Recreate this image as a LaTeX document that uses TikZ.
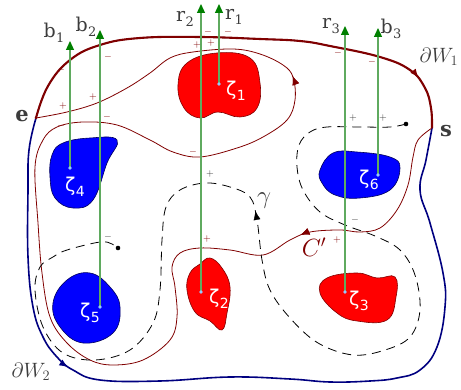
\documentclass[tikz,border=0pt]{standalone}
\usepackage{fontspec}
\setmainfont{DejaVu Serif}
\newfontfamily\zfont{DejaVu Sans}
\usetikzlibrary{arrows.meta,decorations.markings}
\definecolor{dred}{RGB}{128,0,0}
\definecolor{navyb}{RGB}{0,0,128}
\definecolor{lgreen}{RGB}{95,170,95}
\definecolor{dgreen}{RGB}{0,128,0}
\definecolor{dotblue}{RGB}{150,200,255}
\definecolor{lbl}{RGB}{60,60,60}
\newcommand{\zl}[1]{ζ\kern0.02em\raisebox{-0.45ex}{\fontsize{14}{14}\selectfont #1}}
\newcommand{\lsub}[1]{\kern0.02em\raisebox{-0.45ex}{\fontsize{13}{13}\selectfont #1}}
\begin{document}
\begin{tikzpicture}[x=1pt,y=-1pt,
  redblob/.style={fill=red, draw=dred, line width=0.6pt},
  blueblob/.style={fill=blue, draw=navyb!70!black, line width=0.6pt},
  garrow/.style={draw=lgreen, line width=1.3pt, -{Triangle[length=9pt,width=8pt,color=dgreen]}},
  zlab/.style={text=white, font=\zfont\fontsize{19}{19}\selectfont, inner sep=0pt},
  tlab/.style={text=lbl, font=\fontsize{19}{19}\selectfont, inner sep=0pt},
  blab/.style={text=lbl, font=\fontsize{21}{21}\selectfont\bfseries, inner sep=0pt},
  wlab/.style={text=lbl, font=\fontsize{21}{21}\selectfont, inner sep=0pt},
  glab/.style={text=lbl, font=\fontsize{25}{25}\selectfont, inner sep=0pt},
  rsign/.style={text=dred, font=\fontsize{10}{10}\selectfont, inner sep=0pt},
  ksign/.style={text=black!80, font=\fontsize{10}{10}\selectfont, inner sep=0pt},
  cdot/.style={fill=dotblue},
  midarrow/.style={postaction={decorate}, decoration={markings, mark=at position #1 with {\arrow{Latex[length=9pt,width=7pt]}}}},
]
\useasboundingbox (0,0) rectangle (461,390);

% ---- blobs
\draw[redblob] plot[smooth cycle, tension=0.7] coordinates {(187,63)(217,53)(250,58)(260,83)(257,108)(240,117)(218,112)(200,118)(184,108)(178,85)};
\draw[redblob] plot[smooth cycle, tension=0.7] coordinates {(210,258)(222,268)(230,287)(227,313)(222,330)(210,321)(195,312)(187,290)(190,273)(200,264)};
\draw[redblob] plot[smooth cycle, tension=0.7] coordinates {(327,278)(357,273)(377,278)(395,277)(396,297)(387,320)(357,321)(337,313)(320,293)};
\draw[blueblob] plot[smooth cycle, tension=0.7] coordinates {(63,143)(90,138)(117,140)(107,163)(93,200)(73,208)(55,198)(50,177)(52,155)};
\draw[blueblob] plot[smooth cycle, tension=0.7] coordinates {(90,273)(110,287)(120,307)(113,333)(83,343)(60,327)(53,303)(67,280)};
\draw[blueblob] plot[smooth cycle, tension=0.7] coordinates {(320,170)(333,153)(357,152)(390,157)(400,168)(390,190)(360,198)(335,195)(322,183)};

% ---- named points
\coordinate (e) at (36,118);
\coordinate (s) at (432,128);
\coordinate (z1) at (219,84);
\coordinate (z2) at (201,292);
\coordinate (z3) at (345,292);
\coordinate (z4) at (70,168);
\coordinate (z5) at (100,307);
\coordinate (z6) at (378,175);
\coordinate (tr1) at (219,4);
\coordinate (tr2) at (201,4);
\coordinate (tr3) at (345,26);
\coordinate (tb1) at (70,41);
\coordinate (tb2) at (100,30);
\coordinate (tb3) at (378,28);
\coordinate (gs) at (406,124);
\coordinate (ge) at (118,248);

% ---- outer boundary
\draw[navyb, line width=1.6pt, midarrow=0.30] plot[smooth, tension=0.7] coordinates {(36,118)(29,150)(28,190)(28,257)(33,307)(43,337)(57,357)(73,370)(100,380)(160,381)(230,377)(290,379)(330,382)(370,381)(397,378)(420,370)(437,347)(445,307)(443,273)(430,223)(420,190)(426,160)(432,128)};
\draw[navyb, line width=1pt] plot[smooth, tension=0.7] coordinates {(36,118)(48,86)(70,60)(100,45)(140,38)(200,37)(260,39)(300,41)(330,46)(380,57)(410,70)(425,88)(431,108)(432,128)};
\draw[dred, line width=2.1pt, midarrow=0.89] plot[smooth, tension=0.7] coordinates {(36,118)(48,86)(70,60)(100,45)(140,38)(200,37)(260,39)(300,41)(330,46)(380,57)(410,70)(425,88)(431,108)(432,128)};

% ---- curve C'
\draw[dred, line width=0.8pt, midarrow=0.148, midarrow=0.79] plot[smooth, tension=0.6] coordinates {(432,128)(418,140)(413,157)(408,185)(397,210)(380,228)(360,232)(340,230)(310,232)(290,240)(263,255)(230,250)(200,248)(180,253)(172,267)(175,287)(177,317)(170,340)(143,360)(113,365)(90,360)(67,343)(50,317)(42,273)(38,223)(35,167)(43,140)(57,127)(83,122)(117,125)(150,140)(173,152)(200,157)(237,148)(263,137)(287,120)(295,100)(293,77)(283,65)(260,54)(233,49)(193,52)(170,58)(150,73)(127,88)(97,103)(67,112)(36,118)};

% ---- dashed gamma
\draw[black, line width=0.8pt, dash pattern=on 9pt off 6pt] plot[smooth, tension=0.6] coordinates {(406,124)(390,127)(360,127)(327,127)(310,132)(299,145)(297,167)(303,190)(320,212)(345,225)(375,236)(400,250)(415,275)(420,310)(410,337)(385,350)(353,355)(318,343)(290,318)(270,290)(262,260)(257,220)(250,197)(230,187)(205,183)(180,190)(166,207)(162,240)(160,290)(153,323)(130,350)(95,360)(63,353)(43,327)(35,290)(40,267)(53,257)(67,250)(100,242)(112,244)(118,248)};
\path[postaction={decorate}, decoration={markings, mark=at position 0.547 with {\arrow{Latex[length=9pt,width=7pt]}}}] plot[smooth, tension=0.6] coordinates {(406,124)(390,127)(360,127)(327,127)(310,132)(299,145)(297,167)(303,190)(320,212)(345,225)(375,236)(400,250)(415,275)(420,310)(410,337)(385,350)(353,355)(318,343)(290,318)(270,290)(262,260)(257,220)(250,197)(230,187)(205,183)(180,190)(166,207)(162,240)(160,290)(153,323)(130,350)(95,360)(63,353)(43,327)(35,290)(40,267)(53,257)(67,250)(100,242)(112,244)(118,248)};
\fill (gs) circle[radius=2.3pt];
\fill (ge) circle[radius=2.3pt];
\fill[dred] (e) circle[radius=1.5pt];

% ---- green arrows
\draw[garrow] (z1) -- (tr1);
\draw[garrow] (z2) -- (tr2);
\draw[garrow] (z3) -- (tr3);
\draw[garrow] (z4) -- (tb1);
\draw[garrow] (z5) -- (tb2);
\draw[garrow] (z6) -- (tb3);
\foreach \p in {z1,z2,z3,z4,z5,z6} \fill[cdot] (\p) circle[radius=1.8pt];

% ---- zeta labels
\node[zlab] (lz1) at (236,91) {\zl{1}};
\node[zlab] (lz2) at (219,299) {\zl{2}};
\node[zlab] (lz3) at (359,301) {\zl{3}};
\node[zlab] (lz4) at (75,187) {\zl{4}};
\node[zlab] (lz5) at (90,313) {\zl{5}};
\node[zlab] (lz6) at (369,180) {\zl{6}};

% ---- text labels
\node[tlab] (lb1) at (54,33) {b\lsub{1}};
\node[tlab] (lb2) at (86,27) {b\lsub{2}};
\node[tlab] (lr2) at (185,19) {r\lsub{2}};
\node[tlab] (lr1) at (234,17) {r\lsub{1}};
\node[tlab] (lr3) at (331,26) {r\lsub{3}};
\node[tlab] (lb3) at (391,29) {b\lsub{3}};
\node[wlab] (lw1) at (439,57) {$\partial W_1$};
\node[wlab] (lw2) at (31,372) {$\partial W_2$};
\node[blab] (le) at (22,116) {e};
\node[blab] (ls) at (446,131) {s};
\node[glab] (lg) at (264,201) {$\gamma$};
\node[glab, text=dred] (lc) at (314,247) {$C'$};

% ---- signs
\node[rsign] (sg1) at (61,70) {$-$};
\node[rsign] (sg2) at (108,57) {$-$};
\node[rsign] (sg3) at (63,106) {$+$};
\node[rsign] (sg4) at (93,97) {$+$};
\node[rsign] (sg5) at (61,126) {$-$};
\node[rsign] (sg6) at (107,117) {$-$};
\node[rsign] (sg7) at (193,152) {$-$};
\node[rsign] (sg8) at (197,45) {$+$};
\node[rsign] (sg9) at (211,43) {$+$};
\node[rsign] (sg10) at (208,32) {$-$};
\node[rsign] (sg11) at (228,32) {$-$};
\node[rsign] (sg12) at (338,53) {$-$};
\node[rsign] (sg13) at (372,62) {$-$};
\node[rsign] (sg14) at (207,239) {$+$};
\node[rsign] (sg15) at (337,240) {$+$};
\node[ksign] (sk1) at (210,174) {$+$};
\node[ksign] (sk2) at (108,237) {$-$};
\node[ksign] (sk3) at (353,118) {$+$};
\node[ksign] (sk4) at (383,118) {$+$};
\node[ksign] (sk5) at (355,220) {$-$};
\end{tikzpicture}
\end{document}
